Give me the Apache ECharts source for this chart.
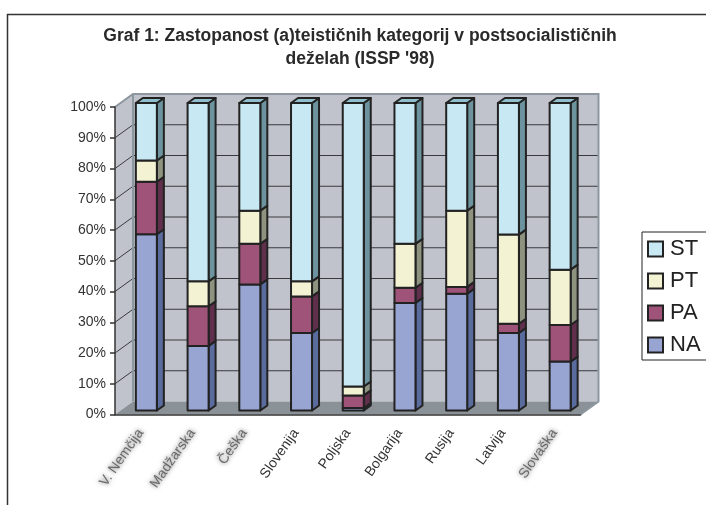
<!DOCTYPE html>
<html>
<head>
<meta charset="utf-8">
<style>html,body{margin:0;padding:0;background:#fff}#chart{width:706px;height:505px}</style>
<script src="https://cdn.jsdelivr.net/npm/echarts@6/dist/echarts.min.js"></script>
</head>
<body>
<div id="chart"></div>
<script>
const countries = ['V. Nemčija', 'Madžarska', 'Češka', 'Slovenija', 'Poljska', 'Bolgarija', 'Rusija', 'Latvija', 'Slovaška'];
const blurred = ['V. Nemčija', 'Madžarska', 'Češka', 'Slovaška'];
const yTicks = [10, 20, 30, 40, 50, 60, 70, 80, 90];
const legendOrder = ['ST', 'PT', 'PA', 'NA'];

// shares in percent, stacked from the bottom up
const NA = [57.3, 21, 41, 25.2, 0.8, 35, 38, 25.2, 15.9];
const PA = [17.1, 12.9, 13.2, 11.9, 4.1, 4.9, 2.2, 3, 11.9];
const PT = [6.9, 8.1, 10.8, 4.9, 2.9, 14.3, 24.8, 29, 18];
const ST = [18.7, 58, 35, 58, 92.2, 45.8, 35, 42.8, 54.2];

const stacks = [
  { name: 'NA', values: NA, front: '#98a4d2', side: '#5a6c9e', top: '#7b88b8' },
  { name: 'PA', values: PA, front: '#a05378', side: '#5f2f4b', top: '#7a3f5c' },
  { name: 'PT', values: PT, front: '#f3f2d3', side: '#8e9380', top: '#c4c5a9' },
  { name: 'ST', values: ST, front: '#c8e8f3', side: '#6d949e', top: '#8fbfcd' },
];

const DEPTH_X = 18, DEPTH_Y = -13;      // back wall offset from the axis plane
const BAR_W = 21, BAR_DX = 5.5, BAR_DY = -4; // bar placement inside the floor
const SIDE_X = 7, SIDE_Y = -5;          // bar depth
const EDGE = '#222';

function renderWalls(params, api) {
  const x0 = params.coordSys.x, x1 = x0 + params.coordSys.width;
  const yBase = api.coord([0, 0])[1], yTop = api.coord([0, 100])[1];
  const dx = DEPTH_X, dy = DEPTH_Y;
  const children = [
    { type: 'polygon', shape: { points: [[x0, yTop], [x0 + dx, yTop + dy], [x0 + dx, yBase + dy], [x0, yBase]] }, style: { fill: '#c0c3cb' } },
    { type: 'rect', shape: { x: x0 + dx, y: yTop + dy, width: x1 - x0, height: yBase - yTop }, style: { fill: '#c0c3cb' } },
  ];
  yTicks.forEach(t => {
    const y = api.coord([0, t])[1];
    children.push({ type: 'polyline', shape: { points: [[x0, y], [x0 + dx, y + dy], [x1 + dx, y + dy]] }, style: { fill: 'none', stroke: '#3a3a3e', lineWidth: 1 } });
  });
  children.push(
    { type: 'polygon', shape: { points: [[x0, yBase], [x0 + dx, yBase + dy], [x1 + dx, yBase + dy], [x1, yBase]] }, style: { fill: '#8a9197' } },
    { type: 'polyline', shape: { points: [[x0, yTop], [x0 + dx, yTop + dy], [x1 + dx, yTop + dy], [x1 + dx, yBase + dy], [x1, yBase]] }, style: { fill: 'none', stroke: '#8c979f', lineWidth: 2 } },
    { type: 'line', shape: { x1: x0 + dx, y1: yTop + dy, x2: x0 + dx, y2: yBase + dy }, style: { stroke: '#8c979f', lineWidth: 2 } }
  );
  return { type: 'group', children };
}

function makeRenderBar(stack, isTop) {
  return function (params, api) {
    const low = api.coord([api.value(0), api.value(1)]);
    const high = api.coord([api.value(0), api.value(2)]);
    const left = low[0] - BAR_W / 2 + BAR_DX;
    const right = left + BAR_W;
    const yLow = low[1] + BAR_DY, yHigh = high[1] + BAR_DY;
    const line = { stroke: EDGE, lineWidth: 2, lineJoin: 'round' };
    const children = [
      { type: 'polygon', shape: { points: [[right, yLow], [right + SIDE_X, yLow + SIDE_Y], [right + SIDE_X, yHigh + SIDE_Y], [right, yHigh]] }, style: { fill: stack.side, ...line } },
      { type: 'rect', shape: { x: left, y: yHigh, width: BAR_W, height: yLow - yHigh }, style: { fill: stack.front, ...line } },
    ];
    if (isTop) {
      children.push({ type: 'polygon', shape: { points: [[left, yHigh], [left + SIDE_X, yHigh + SIDE_Y], [right + SIDE_X, yHigh + SIDE_Y], [right, yHigh]] }, style: { fill: stack.top, ...line } });
    }
    return { type: 'group', children };
  };
}

const running = countries.map(() => 0);
const barSeries = stacks.map((stack, s) => ({
  name: stack.name,
  type: 'custom',
  z: 3 + s,
  clip: false,
  silent: true,
  itemStyle: { color: stack.front },
  renderItem: makeRenderBar(stack, s === stacks.length - 1),
  encode: { x: 0, y: [1, 2] },
  data: stack.values.map((v, i) => {
    const row = [i, running[i], running[i] + v];
    running[i] += v;
    return row;
  }),
}));

const chart = echarts.init(document.getElementById('chart'), null, { renderer: 'canvas' });
chart.setOption({
  animation: false,
  textStyle: { fontFamily: '"Liberation Sans", Arial, sans-serif' },
  graphic: [
    { type: 'polyline', z: 0, silent: true, shape: { points: [[7.5, 505], [7.5, 14.5], [706, 14.5]] }, style: { fill: 'none', stroke: '#333', lineWidth: 1.5 } },
  ],
  title: {
    text: "Graf 1: Zastopanost (a)teističnih kategorij v postsocialističnih\ndeželah (ISSP '98)",
    left: 355,
    top: 20,
    textAlign: 'center',
    textStyle: { fontSize: 17.5, fontWeight: 'bold', color: '#2a2a2a', lineHeight: 23, fontFamily: '"Liberation Sans", Arial, sans-serif' },
  },
  legend: {
    data: legendOrder,
    orient: 'vertical',
    left: 642,
    top: 232,
    padding: [6, 70, 4, 5],
    itemGap: 10,
    itemWidth: 15,
    itemHeight: 15,
    icon: 'rect',
    borderColor: '#222',
    borderWidth: 1,
    backgroundColor: '#fff',
    selectedMode: false,
    itemStyle: { borderColor: EDGE, borderWidth: 2 },
    textStyle: { fontSize: 22, color: '#222', padding: [0, 0, 0, 2] },
  },
  grid: { left: 115, right: 125.5, top: 107, bottom: 90.5 },
  xAxis: {
    type: 'category',
    data: countries.map(c => blurred.includes(c)
      ? { value: c, textStyle: { color: 'rgba(70,70,70,0.75)', textShadowColor: '#333', textShadowBlur: 4 } }
      : c),
    z: 10,
    axisLine: { lineStyle: { color: '#333', width: 1.5 } },
    axisTick: { length: 5, lineStyle: { color: '#333', width: 1.5 } },
    axisLabel: { rotate: 55, interval: 0, margin: 16, fontSize: 14, color: '#333' },
  },
  yAxis: {
    type: 'value',
    min: 0,
    max: 100,
    interval: 10,
    z: 10,
    axisLine: { show: true, lineStyle: { color: '#333', width: 1.5 } },
    axisTick: { show: true, length: 5, lineStyle: { color: '#333', width: 1.5 } },
    axisLabel: { formatter: '{value}%', margin: 9, fontSize: 14, color: '#333' },
    splitLine: { show: false },
  },
  series: [
    { type: 'custom', name: 'walls', z: 1, clip: false, silent: true, renderItem: renderWalls, encode: { x: 0, y: 1 }, data: [[0, 0]] },
    ...barSeries,
  ],
});
</script>
</body>
</html>
